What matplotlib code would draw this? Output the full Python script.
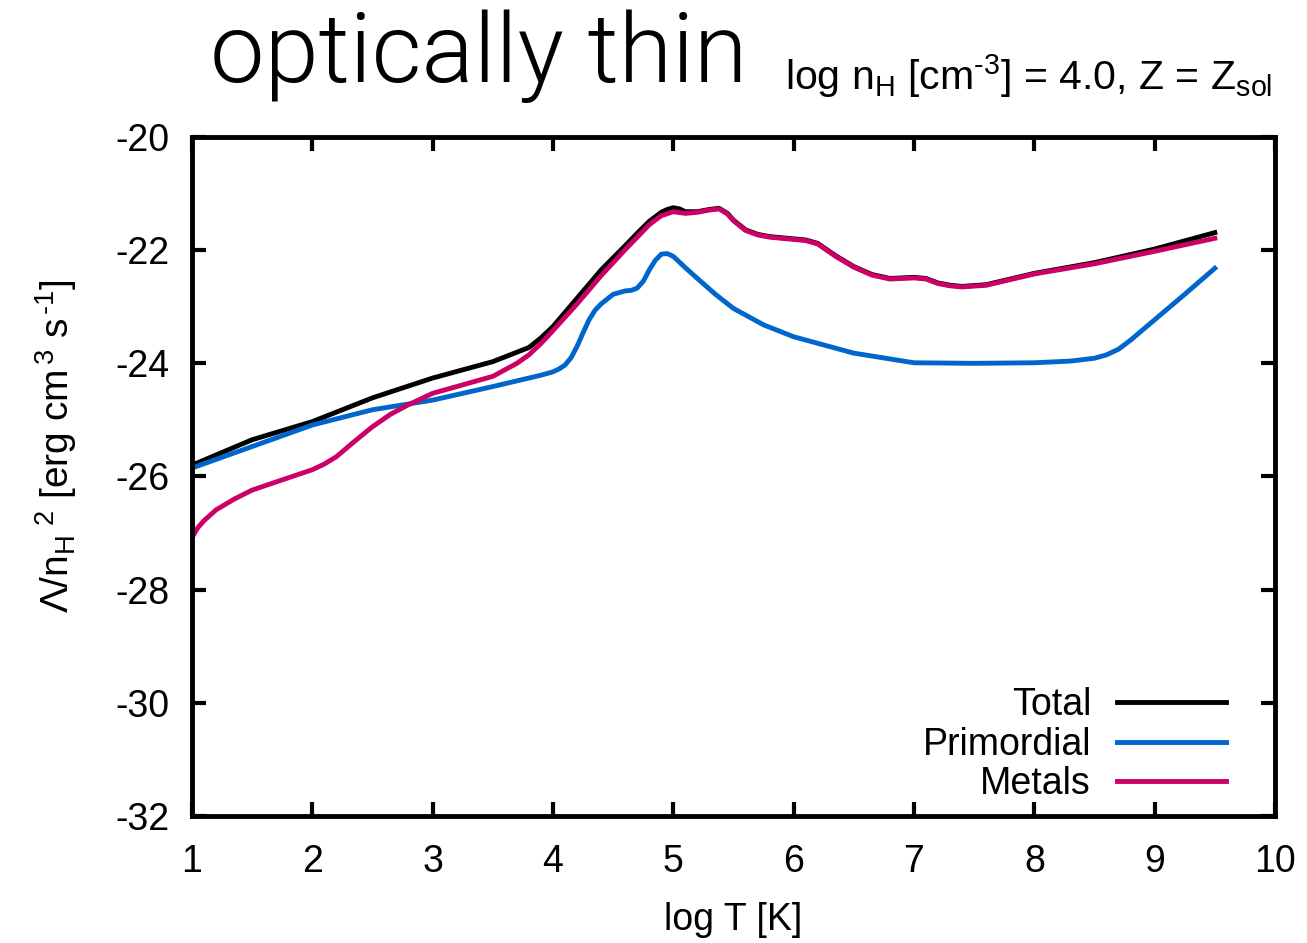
import matplotlib
matplotlib.use("Agg")
import matplotlib.pyplot as plt
from matplotlib import font_manager

plt.rcParams["font.family"] = ["Liberation Sans", "DejaVu Sans"]
plt.rcParams["mathtext.fontset"] = "custom"
plt.rcParams["mathtext.rm"] = "Liberation Sans"
plt.rcParams["mathtext.it"] = "Liberation Sans:italic"
plt.rcParams["mathtext.bf"] = "Liberation Sans:bold"

# values (log T, log Lambda/nH^2)
total_T = [1.0, 1.5, 2.0, 2.5, 3.0, 3.5, 3.8, 3.9, 4.0, 4.2, 4.4, 4.6, 4.7, 4.8,
           4.9, 4.95, 5.0, 5.05, 5.1, 5.2, 5.3, 5.38, 5.45, 5.5, 5.6, 5.7, 5.8,
           6.0, 6.1, 6.2, 6.35, 6.5, 6.65, 6.8, 7.0, 7.1, 7.2, 7.3, 7.4, 7.6, 8.0,
           8.5, 9.0, 9.5]
total_L = [-25.80, -25.35, -25.03, -24.61, -24.26, -23.97, -23.72, -23.55, -23.35,
           -22.85, -22.35, -21.92, -21.70, -21.49, -21.33, -21.28, -21.25, -21.27,
           -21.32, -21.32, -21.28, -21.26, -21.35, -21.47, -21.64, -21.72, -21.76,
           -21.80, -21.82, -21.88, -22.10, -22.29, -22.43, -22.50, -22.48, -22.50,
           -22.58, -22.62, -22.64, -22.61, -22.41, -22.22, -21.98, -21.69]

prim_T = [1.0, 1.5, 2.0, 2.5, 3.0, 3.5, 3.8, 3.9, 4.0, 4.05, 4.1, 4.15, 4.2, 4.25,
          4.3, 4.35, 4.4, 4.5, 4.6, 4.65, 4.7, 4.75, 4.8, 4.85, 4.9, 4.95, 5.0,
          5.1, 5.2, 5.35, 5.5, 5.75, 6.0, 6.5, 7.0, 7.5, 8.0, 8.3, 8.5, 8.6, 8.7,
          8.8, 9.0, 9.25, 9.5]
prim_L = [-25.85, -25.47, -25.09, -24.82, -24.65, -24.41, -24.26, -24.21, -24.15,
          -24.10, -24.03, -23.90, -23.70, -23.46, -23.23, -23.06, -22.95, -22.78,
          -22.72, -22.71, -22.67, -22.55, -22.35, -22.18, -22.07, -22.06, -22.11,
          -22.31, -22.50, -22.78, -23.03, -23.32, -23.53, -23.82, -23.99, -24.00,
          -23.99, -23.96, -23.91, -23.85, -23.75, -23.59, -23.23, -22.78, -22.32]

metal_T = [1.0, 1.05, 1.1, 1.2, 1.35, 1.5, 2.0, 2.1, 2.2, 2.35, 2.5, 2.65, 2.8,
           3.0, 3.5, 3.7, 3.8, 3.9, 4.0, 4.2, 4.4, 4.6, 4.7, 4.8, 4.9, 5.0, 5.1,
           5.2, 5.3, 5.38, 5.45, 5.5, 5.6, 5.7, 5.8, 6.0, 6.1, 6.2, 6.35, 6.5,
           6.65, 6.8, 7.0, 7.1, 7.2, 7.3, 7.4, 7.6, 8.0, 8.5, 9.0, 9.5]
metal_L = [-27.08, -26.90, -26.78, -26.59, -26.40, -26.24, -25.88, -25.78, -25.65,
           -25.38, -25.12, -24.90, -24.73, -24.53, -24.23, -24.00, -23.85, -23.65,
           -23.42, -22.95, -22.45, -21.99, -21.77, -21.55, -21.39, -21.32, -21.35,
           -21.33, -21.29, -21.27, -21.36, -21.48, -21.65, -21.73, -21.77, -21.81,
           -21.83, -21.89, -22.11, -22.30, -22.44, -22.51, -22.49, -22.51, -22.59,
           -22.63, -22.65, -22.62, -22.42, -22.24, -22.02, -21.79]

labels = ["Total", "Primordial", "Metals"]
colors = ["#000000", "#0066cc", "#cc0066"]

xticks = [1, 2, 3, 4, 5, 6, 7, 8, 9, 10]
yticks = [-32, -30, -28, -26, -24, -22, -20]

# thin face for the big title, if one is installed
title_font = {"family": "Liberation Sans"}
for fam in ["Roboto", "Inter", "Open Sans", "Lato", "Noto Sans"]:
    light = [f for f in font_manager.fontManager.ttflist
             if f.name == fam and isinstance(f.weight, int) and f.weight <= 300
             and f.style == "normal"]
    if light:
        title_font = {"family": fam, "weight": max(f.weight for f in light)}
        break

fig = plt.figure(figsize=(13.07, 9.43), dpi=100)
ax = fig.add_axes([0.1469, 0.1347, 0.8286, 0.7200])

for T, L, lab, col in zip([total_T, prim_T, metal_T], [total_L, prim_L, metal_L],
                          labels, colors):
    ax.plot(T, L, color=col, lw=3.5, label=lab, solid_joinstyle="round")

ax.set_xlim(1, 10)
ax.set_ylim(-32, -20)
ax.set_xticks(xticks)
ax.set_yticks(yticks)
ax.set_xticklabels([str(t) for t in xticks])
ax.set_yticklabels([str(t) for t in yticks])

for s in ax.spines.values():
    s.set_linewidth(3.5)
ax.tick_params(which="both", direction="in", top=True, right=True,
               length=10, width=3, labelsize=27)
ax.tick_params(axis="x", pad=20)
ax.tick_params(axis="y", pad=16)

hy = "\u2010"  # plain hyphen, like the reference's exponents
ax.set_xlabel("log T [K]", fontsize=27, labelpad=16)
ax.set_ylabel(r"$\mathrm{\Lambda/n_H}$$^{\ 2}$ [erg cm$^{\,3}$ s$^{\," + hy + "1}$]",
              fontsize=28)
ax.yaxis.set_label_coords(-0.104, 0.545)

leg = ax.legend(loc="lower right", bbox_to_anchor=(0.9548, 0.02), frameon=False,
                markerfirst=False, fontsize=27, handlelength=2.9,
                handletextpad=0.7, labelspacing=0.1, borderpad=0,
                borderaxespad=0)
for line in leg.get_lines():
    line.set_linewidth(3.5)

fig.text(0.1607, 0.913, "optically thin", fontsize=70, ha="left",
         va="baseline", **title_font)
fig.text(0.9732, 0.905,
         r"log n$_\mathrm{H}$ [cm$^{" + hy + "3}$] = 4.0, Z = Z$_\mathrm{sol}$",
         fontsize=29.5, ha="right", va="baseline")

fig.savefig("out.png", dpi=100)
